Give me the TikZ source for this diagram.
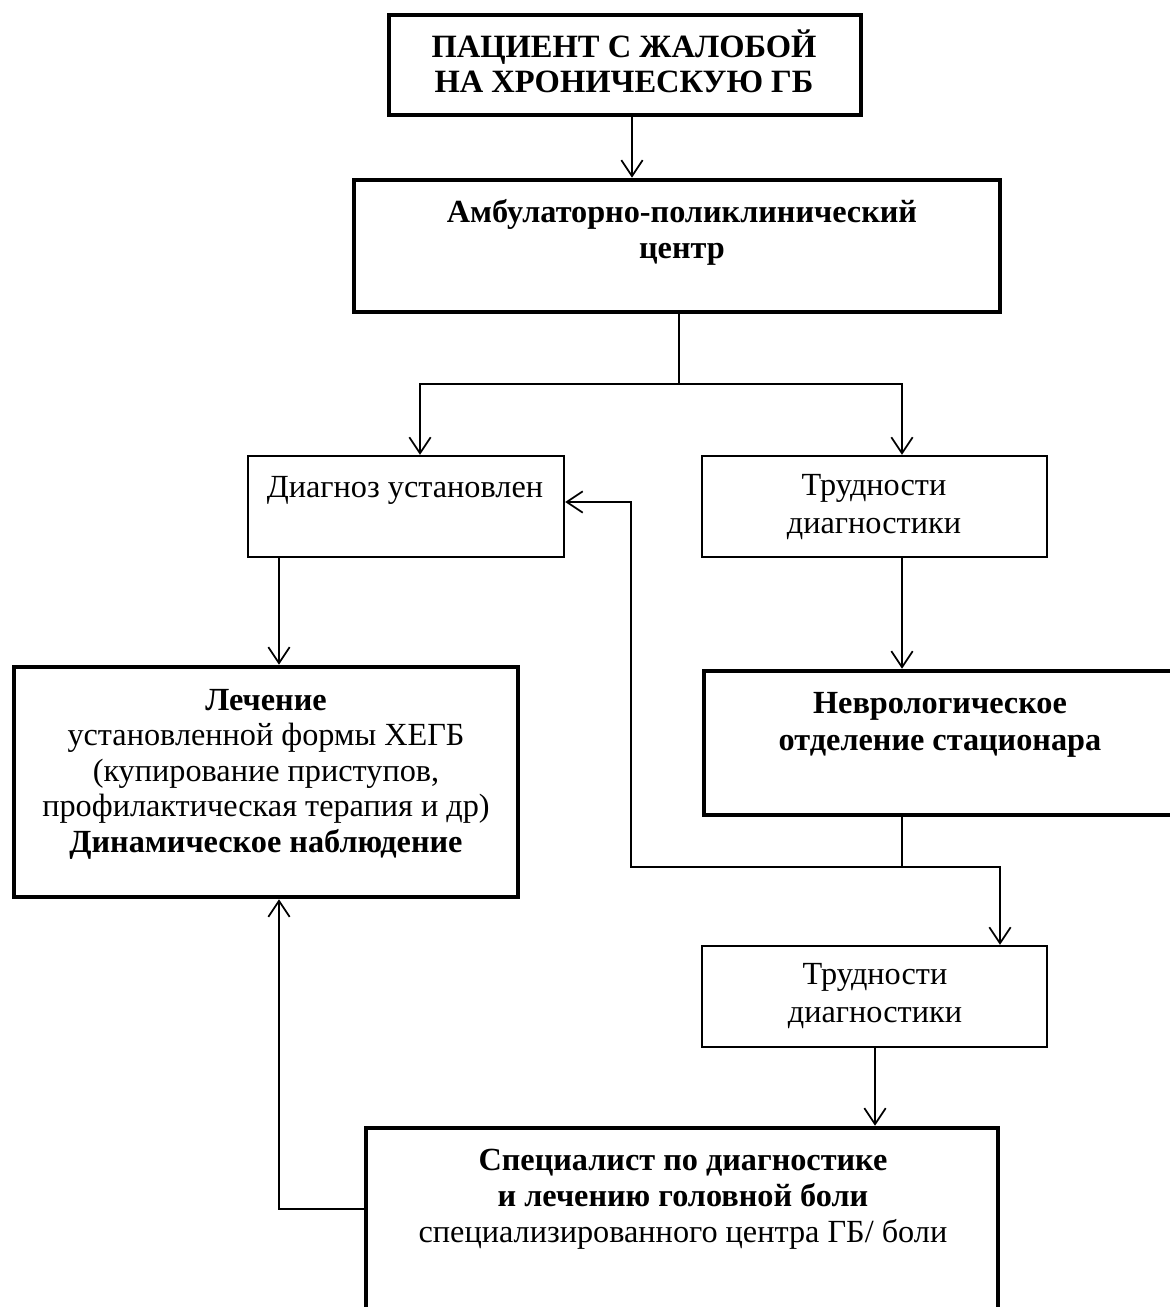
\documentclass[tikz,border=0pt]{standalone}
\usepackage{fontspec}
\setmainfont{Liberation Serif}
\usetikzlibrary{arrows.meta,fit}
\begin{document}
\begin{tikzpicture}[x=0.75pt,y=-0.75pt,
  box/.style={draw, inner sep=0pt, line width=1.8pt},
  bigbox/.style={draw, inner sep=0pt, line width=3.4pt},
  lbl/.style={anchor=base, align=center, inner sep=0pt, font=\fontsize{24.2}{27}\selectfont},
  arr/.style={line width=1.3pt, -{Straight Barb[length=12pt,width=16pt,line width=1.3pt]}},
  link/.style={line width=1.3pt}]
\useasboundingbox (0,0) rectangle (1170,1307);
\clip (0,0) rectangle (1170,1307);
% boxes
\node[bigbox, fit={(389,15) (861,115)}] (patient) {};
\node[bigbox, fit={(354,180) (1000,312)}] (ambul) {};
\node[box, fit={(248,456) (564,557)}] (diag) {};
\node[box, fit={(702,456) (1047,557)}] (trud1) {};
\node[bigbox, fit={(14,667) (518,897)}] (lech) {};
\node[bigbox, fit={(704,671) (1180,815)}] (nevro) {};
\node[box, fit={(702,946) (1047,1047)}] (trud2) {};
\node[bigbox, fit={(366,1128) (998,1330)}] (spec) {};
% texts (anchor = baseline of the last line)
\node[lbl, font=\bfseries\fontsize{24.4}{26.25}\selectfont] (tpatient) at (624,92) {ПАЦИЕНТ С ЖАЛОБОЙ\\НА ХРОНИЧЕСКУЮ ГБ};
\node[lbl, font=\bfseries\fontsize{24.2}{27}\selectfont] (tambul) at (682,258) {Амбулаторно-поликлинический\\центр};
\node[lbl] (tdiag) at (405,497) {Диагноз установлен};
\node[lbl, font=\fontsize{24.2}{28.5}\selectfont] (ttrud1) at (874,533) {Трудности\\диагностики};
\node[lbl, font=\fontsize{24.2}{26.6}\selectfont] (tlech) at (266,852) {{\bfseries Лечение}\\установленной формы ХЕГБ\\(купирование приступов,\\профилактическая терапия и др)\\{\bfseries Динамическое наблюдение}};
\node[lbl, font=\bfseries\fontsize{24.2}{27.75}\selectfont] (tnevro) at (940,750) {Неврологическое\\отделение стационара};
\node[lbl, font=\fontsize{24.2}{28}\selectfont] (ttrud2) at (875,1022) {Трудности\\диагностики};
\node[lbl, font=\fontsize{24.2}{27}\selectfont] (tspec) at (683,1242) {{\bfseries Специалист по диагностике}\\{\bfseries и лечению головной боли}\\специализированного центра ГБ/ боли};
% connectors
\coordinate (xa) at (632,0);
\draw[arr] (patient.south -| xa) -- (ambul.north -| xa);
\coordinate (split) at (679,384);
\coordinate (bl) at (420,384);
\coordinate (br) at (902,384);
\draw[link] (ambul.south -| split) -- (split);
\draw[arr] (split) -- (bl) -- (diag.north -| bl);
\draw[arr] (split) -- (br) -- (trud1.north -| br);
\coordinate (xl) at (279,0);
\draw[arr] (diag.south -| xl) -- (lech.north -| xl);
\draw[arr] (trud1.south -| br) -- (nevro.north -| br);
\coordinate (j2) at (902,867);
\coordinate (jl) at (631,867);
\coordinate (jr) at (1000,867);
\coordinate (jt) at (631,502);
\draw[link] (nevro.south -| j2) -- (j2);
\draw[arr] (j2) -- (jr) -- (trud2.north -| jr);
\draw[arr] (j2) -- (jl) -- (jt) -- (diag.east |- jt);
\coordinate (xs) at (875,0);
\draw[arr] (trud2.south -| xs) -- (spec.north -| xs);
\coordinate (fb) at (279,1209);
\draw[arr] (spec.west |- fb) -- (fb) -- (lech.south -| fb);
\end{tikzpicture}
\end{document}
